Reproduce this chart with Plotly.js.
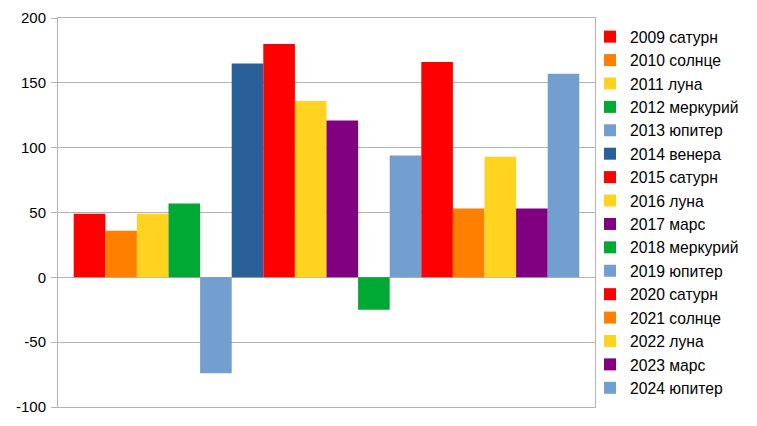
<!DOCTYPE html>
<html>
<head>
<meta charset="utf-8">
<script src="https://cdn.plot.ly/plotly-3.0.1.min.js"></script>
<style>html,body{margin:0;padding:0;background:#fff;}#chart{width:757px;height:426px;}</style>
</head>
<body>
<div id="chart"></div>
<script>
const seriesNames = ["2009 сатурн","2010 солнце","2011 луна","2012 меркурий","2013 юпитер","2014 венера","2015 сатурн","2016 луна","2017 марс","2018 меркурий","2019 юпитер","2020 сатурн","2021 солнце","2022 луна","2023 марс","2024 юпитер"];
const seriesValues = [49, 36, 49, 57, -74, 165, 180, 136, 121, -25, 94, 166, 53, 93, 53, 157];
const seriesColors = ["#ff0000","#ff8000","#ffd320","#00a933","#729fcf","#2a6099","#ff0000","#ffd320","#800080","#00a933","#729fcf","#ff0000","#ff8000","#ffd320","#800080","#729fcf"];
const category = [""];
const yTicks = [-100, -50, 0, 50, 100, 150, 200];

const traces = seriesNames.map((n, i) => ({
  type: "bar",
  name: n,
  x: category,
  y: [seriesValues[i]],
  marker: {color: seriesColors[i], line: {width: 0}},
  hoverinfo: "name+y"
}));

const layout = {
  width: 757, height: 426,
  margin: {l: 58, r: 162, t: 18, b: 19, pad: 0},
  paper_bgcolor: "#fff", plot_bgcolor: "#fff",
  font: {family: "Liberation Sans, Arial, sans-serif", size: 15, color: "#000"},
  barmode: "group", bargap: 0.0585, bargroupgap: 0,
  showlegend: true,
  legend: {x: 0.9907, xanchor: "left", y: 0.995, yanchor: "top", xref: "paper",
           font: {size: 15.7, family: "Liberation Sans, Arial, sans-serif"},
           itemwidth: 30, tracegroupgap: 0, bgcolor: "rgba(0,0,0,0)"},
  xaxis: {showticklabels: false, showgrid: false, zeroline: false, showline: true, linecolor: "#b3b3b3", linewidth: 1, mirror: true, ticks: ""},
  yaxis: {range: [-100, 200], tickvals: yTicks, ticktext: yTicks.map(String), showgrid: true, gridcolor: "#b3b3b3", gridwidth: 1,
          zeroline: true, zerolinecolor: "#b3b3b3", zerolinewidth: 1, showline: true, linecolor: "#b3b3b3", linewidth: 1, mirror: true,
          ticks: "outside", ticklen: 6, tickcolor: "#b3b3b3", tickfont: {size: 15}, ticklabelstandoff: 2}
};

Plotly.newPlot("chart", traces, layout, {displayModeBar: false, staticPlot: true});
</script>
</body>
</html>
